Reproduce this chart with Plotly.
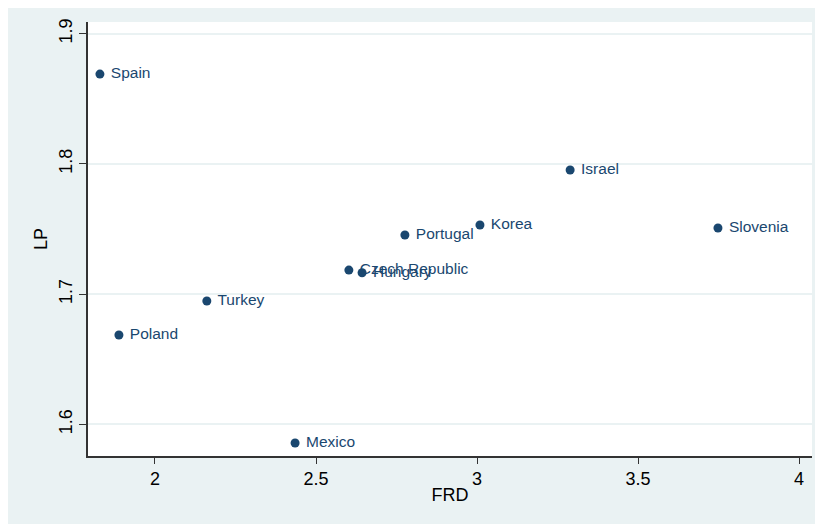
import plotly.graph_objects as go

countries = ["Spain", "Poland", "Turkey", "Mexico", "Czech Republic", "Hungary",
             "Portugal", "Korea", "Israel", "Slovenia"]
frd = [1.829, 1.888, 2.161, 2.435, 2.602, 2.643, 2.776, 3.009, 3.289, 3.748]
lp = [1.869, 1.6686, 1.6947, 1.5857, 1.7185, 1.7164, 1.7454, 1.7531, 1.7953, 1.7508]

x_ticks = [2, 2.5, 3, 3.5, 4]
x_tick_labels = ["2", "2.5", "3", "3.5", "4"]
y_ticks = [1.6, 1.7, 1.8, 1.9]
y_tick_labels = ["1.6", "1.7", "1.8", "1.9"]

navy = "#1a476f"
bg = "#eaf2f3"
font_family = "Liberation Sans, Arial, sans-serif"

fig = go.Figure()
fig.add_trace(go.Scatter(
    x=frd, y=lp, mode="markers+text",
    text=[" " + c for c in countries], textposition="middle right",
    textfont=dict(family=font_family, size=15.5, color=navy),
    marker=dict(size=9, color=navy),
    showlegend=False, cliponaxis=False,
))

fig.update_layout(
    width=823, height=524,
    margin=dict(l=80, r=19, t=14, b=76, autoexpand=False),
    paper_bgcolor="white",
    plot_bgcolor="white",
    font=dict(family=font_family, color="black"),
    shapes=[dict(type="rect", xref="paper", yref="paper",
                 x0=-0.2, x1=1.2, y0=-0.3, y1=1.3,
                 fillcolor=bg, line=dict(width=0), layer="below")],
)
fig.add_shape(type="rect", xref="paper", yref="paper", x0=0, x1=1, y0=0, y1=1,
              fillcolor="white", line=dict(width=0), layer="below")

fig.update_xaxes(
    range=[1.792, 4.040], tickvals=x_ticks, ticktext=x_tick_labels,
    automargin=False,
    showgrid=False, zeroline=False,
    showline=True, linecolor="#333333", linewidth=1.5,
    ticks="outside", ticklen=6, tickcolor="#333333",
    tickfont=dict(size=18, color="black"),
    title=dict(text="FRD", font=dict(size=18, color="black"), standoff=0),
)
fig.update_yaxes(
    range=[1.5757, 1.909], tickvals=y_ticks, ticktext=y_tick_labels,
    automargin=False,
    tickangle=-90,
    showgrid=True, gridcolor=bg, gridwidth=1.5, zeroline=False,
    showline=True, linecolor="#333333", linewidth=1.5,
    ticks="outside", ticklen=7, tickcolor="#333333",
    tickfont=dict(size=18, color="black"),
    title=dict(text="LP", font=dict(size=18, color="black"), standoff=4),
)

fig.write_html("out.html")
